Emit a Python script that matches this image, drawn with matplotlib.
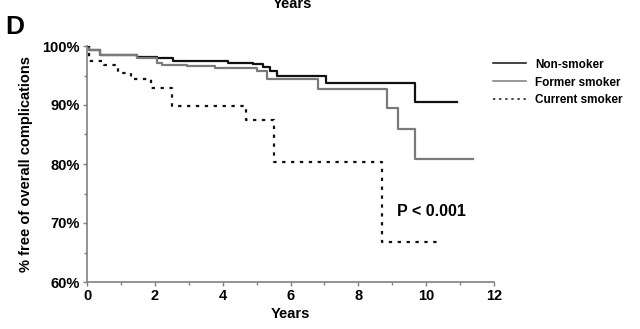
import numpy as np
import matplotlib
matplotlib.use("Agg")
import matplotlib.pyplot as plt
from matplotlib.lines import Line2D
from matplotlib.ticker import MultipleLocator, FuncFormatter

plt.rcParams['font.family'] = ['Liberation Sans', 'DejaVu Sans']
plt.rcParams['font.weight'] = 'bold'

# Kaplan-Meier step curves (time in years, % free of complications)
non_t = [0, 0.05, 0.38, 1.47, 2.06, 2.55, 4.17, 4.9, 5.2, 5.4, 5.6, 7.05, 9.68]
non_v = [100, 99.3, 98.4, 98.2, 97.9, 97.5, 97.2, 96.9, 96.4, 95.8, 95.0, 93.7, 90.5]
non_end = 10.9

former_t = [0, 0.05, 0.38, 1.47, 2.06, 2.2, 2.94, 3.78, 5.0, 5.3, 6.8, 8.84, 9.16, 9.68]
former_v = [100, 99.3, 98.5, 97.9, 97.2, 96.8, 96.6, 96.2, 95.8, 94.4, 92.7, 89.5, 86.0, 80.8]
former_end = 11.38

current_t = [0, 0.05, 0.5, 0.9, 1.3, 1.9, 2.5, 4.7, 5.5, 8.7]
current_v = [100, 97.4, 96.7, 95.5, 94.4, 92.8, 89.8, 87.5, 80.3, 66.8]
current_end = 10.4

series = [
    ("Non-smoker", non_t, non_v, non_end, "#111111", "-"),
    ("Former smoker", former_t, former_v, former_end, "#7a7a7a", "-"),
    ("Current smoker", current_t, current_v, current_end, "#111111", (0, (1.5, 2.5))),
]

fig = plt.figure(figsize=(6.4, 3.29), dpi=100)
ax = fig.add_axes([87 / 640, 1 - 282 / 329, (494 - 87) / 640, (282 - 46) / 329])

handles = []
for name, t, v, end, col, ls in series:
    tt = list(t) + [end]
    vv = list(v) + [v[-1]]
    ax.step(tt, vv, where='post', color=col, lw=1.6, ls=ls)
    handles.append(Line2D([0], [0], color=col, lw=1.1, ls=ls))

ax.set_xlim(0, 12)
ax.set_ylim(60, 100)
ax.xaxis.set_major_locator(MultipleLocator(2))
ax.xaxis.set_minor_locator(MultipleLocator(1))
ax.yaxis.set_major_locator(MultipleLocator(10))
ax.yaxis.set_minor_locator(MultipleLocator(5))
ax.yaxis.set_major_formatter(FuncFormatter(lambda v, p: f"{int(v)}%"))

for s in ['top', 'right']:
    ax.spines[s].set_visible(False)
for s in ['left', 'bottom']:
    ax.spines[s].set_color('#808080')
    ax.spines[s].set_linewidth(1.2)
ax.tick_params(which='both', color='#808080', width=1, labelsize=10.5, pad=2)
ax.tick_params(which='major', length=3)
ax.tick_params(which='minor', length=2)
for lab in ax.get_xticklabels() + ax.get_yticklabels():
    lab.set_fontweight('bold')

ax.set_xlabel("Years", fontsize=10.5, fontweight='bold', labelpad=3)
ax.set_ylabel("% free of overall complications", fontsize=10.5, fontweight='bold', labelpad=7)

ax.text(9.15, 71.9, "P < 0.001", fontsize=11.5, fontweight='bold', va='center')

fig.text(15 / 640, 1 - 27 / 329, "D", fontsize=19, fontweight='bold', ha='center', va='center')
fig.text(292 / 640, 1 - 3.5 / 329, "Years", fontsize=10.5, fontweight='bold', ha='center', va='center')

fig.legend(handles, [s[0] for s in series], loc='upper left',
           bbox_to_anchor=(482 / 640, 1 - 48 / 329), frameon=False,
           handlelength=2.8, handletextpad=0.8, labelspacing=0.5,
           prop={'weight': 'bold', 'size': 8.5})

fig.savefig("out.png", dpi=100)
